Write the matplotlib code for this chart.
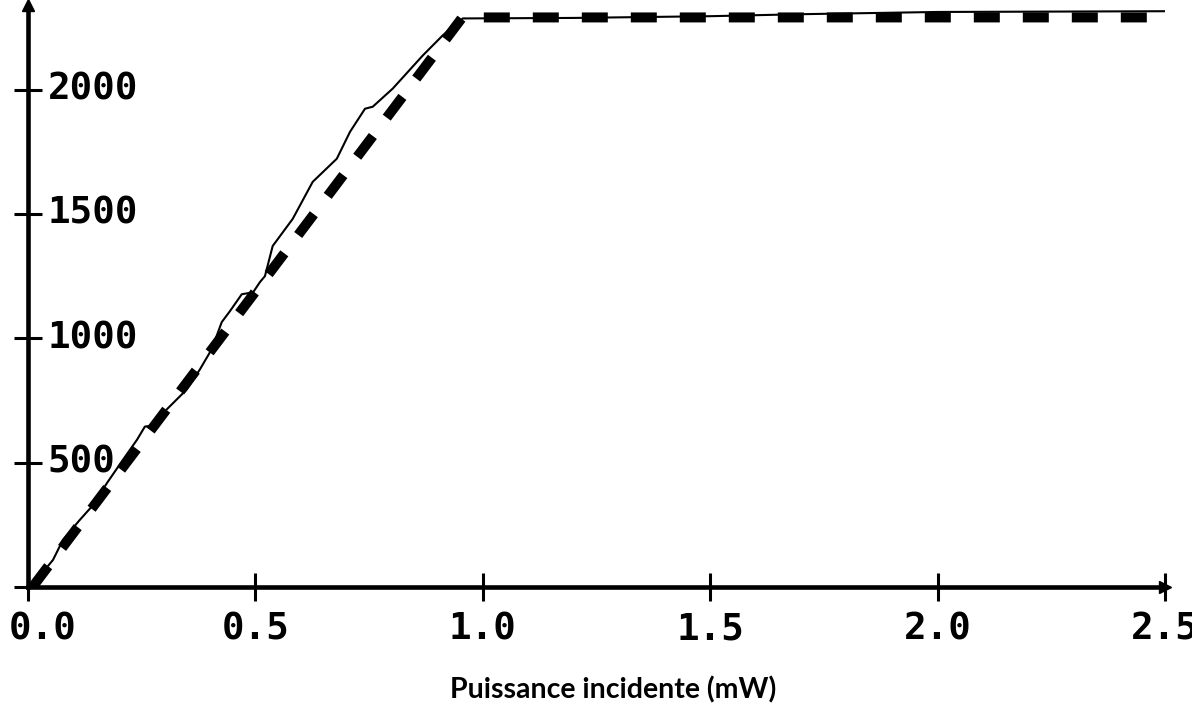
import numpy as np
import matplotlib
matplotlib.use('Agg')
import matplotlib.pyplot as plt
from matplotlib.transforms import ScaledTranslation

x_meas = [0.0, 0.015, 0.055, 0.077, 0.114, 0.14, 0.174, 0.209, 0.24, 0.257, 0.275,
          0.305, 0.349, 0.378, 0.404, 0.426, 0.444, 0.47, 0.495, 0.51, 0.521, 0.538,
          0.582, 0.626, 0.679, 0.708, 0.741, 0.758, 0.802, 0.868, 0.912, 0.956,
          1.2, 1.5, 1.7, 2.0, 2.5]
y_meas = [0, 20, 109, 190, 270, 323, 419, 512, 593, 645, 649,
          714, 794, 875, 956, 1065, 1109, 1177, 1185, 1226, 1250, 1371,
          1480, 1629, 1722, 1830, 1923, 1931, 2004, 2137, 2218, 2286,
          2288, 2295, 2303, 2312, 2315]

# model (thick dashed line)
x_model = [0.01, 0.955, 2.5]
y_model = [0, 2290, 2290]

xticks = [0.0, 0.5, 1.0, 1.5, 2.0, 2.5]
xtick_labels = ['0.0', '0.5', '1.0', '1.5', '2.0', '2.5']
yticks = [0, 500, 1000, 1500, 2000]
ytick_labels = ['', '500', '1000', '1500', '2000']

fig = plt.figure(figsize=(11.92, 7.16), dpi=100)
ax = fig.add_axes([28/1192, 129/716, (1165-28)/1192, (587-5)/716])

ax.plot(x_model, y_model, color='black', lw=7.2, dashes=(2.6, 2.3),
        dash_capstyle='butt', solid_capstyle='butt')
ax.plot(x_meas, y_meas, color='black', lw=1.5)

ax.set_xlim(0, 2.5)
ax.set_ylim(0, 2340)

for s in ['top', 'right']:
    ax.spines[s].set_visible(False)
for s in ['left', 'bottom']:
    ax.spines[s].set_linewidth(3.3)

ax.set_xticks(xticks)
ax.set_xticklabels(xtick_labels)
ax.set_yticks(yticks)
ax.set_yticklabels(ytick_labels)

ax.tick_params(direction='inout', length=20, width=2.2, labelsize=27)
ax.tick_params(axis='x', pad=8)
ax.tick_params(axis='y', pad=-24)

for lab in ax.get_xticklabels() + ax.get_yticklabels():
    lab.set_fontfamily('DejaVu Sans Mono')
    lab.set_fontweight('bold')
for lab in ax.get_yticklabels():
    lab.set_ha('left')
    lab.set_va('center')

# first x label sits a bit to the right of its tick
lab0 = ax.get_xticklabels()[0]
lab0.set_transform(lab0.get_transform() + ScaledTranslation(0.15, 0, fig.dpi_scale_trans))

# arrow heads on the axes
ax.plot(1, 0, '>k', ms=9, transform=ax.transAxes, clip_on=False)
ax.plot(0, 1, '^k', ms=9, transform=ax.transAxes, clip_on=False)

ax.set_xlabel('Puissance incidente (mW)', fontsize=20.5, fontweight='bold',
              fontfamily='Lato')
ax.xaxis.set_label_coords((613-28)/1137, -(690-587)/582)
ax.xaxis.label.set_va('center')

fig.savefig('out.png', dpi=100)
